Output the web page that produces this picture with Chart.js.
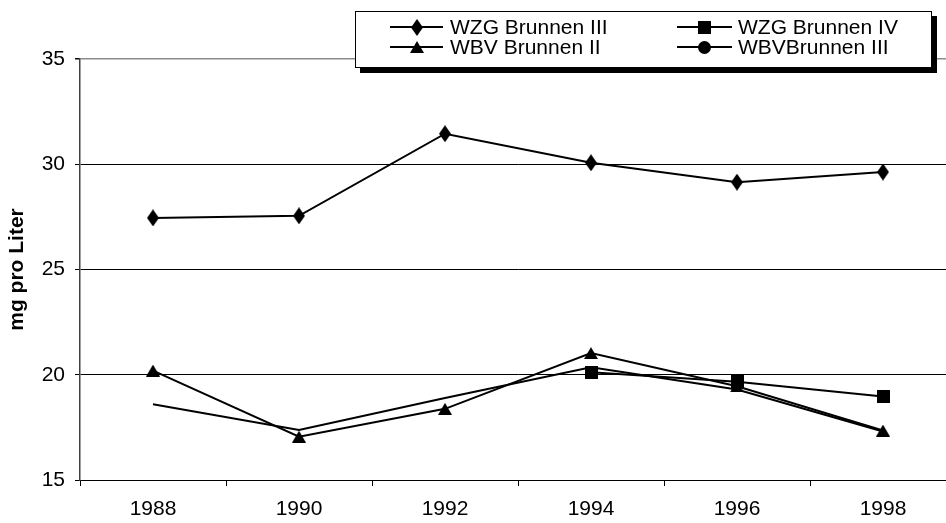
<!DOCTYPE html>
<html>
<head>
<meta charset="utf-8">
<script src="https://cdn.jsdelivr.net/npm/chart.js@4"></script>
<style>
  html, body { margin: 0; padding: 0; background: #ffffff; overflow: hidden; width: 946px; height: 523px; }
  canvas { display: block; }
</style>
</head>
<body>
<canvas id="c" width="1000" height="523"></canvas>
<script>
// ---- data ----
const years = ['1988', '1990', '1992', '1994', '1996', '1998'];
const wzgBrunnen3 = [27.45, 27.55, 31.45, 30.07, 29.15, 29.63];
const wzgBrunnen4 = [null, null, null, 20.12, 19.67, 18.97];
const wbvBrunnen2 = [20.2, 17.06, 18.38, 21.03, 19.45, 17.35];
const wbvBrunnen3 = [18.6, 17.38, 18.9, 20.35, 19.3, 17.3];
const seriesLabels = ['WZG Brunnen III', 'WZG Brunnen IV', 'WBV Brunnen II', 'WBVBrunnen III'];
const yTicks = [15, 20, 25, 30, 35];
const yTitle = 'mg pro Liter';

const FONT = '"Liberation Sans", Arial, sans-serif';

function makeMarker(kind) {
  const c = document.createElement('canvas');
  let w, h;
  if (kind === 'diamond') { w = 12; h = 17; }
  else if (kind === 'square') { w = 13; h = 13; }
  else if (kind === 'triangle') { w = 14; h = 12; }
  else { w = 13; h = 13; }
  c.width = w; c.height = h;
  const g = c.getContext('2d');
  g.fillStyle = '#000';
  g.beginPath();
  if (kind === 'diamond') { g.moveTo(w/2, 0); g.lineTo(w, h/2); g.lineTo(w/2, h); g.lineTo(0, h/2); }
  else if (kind === 'square') { g.rect(0, 0, w, h); }
  else if (kind === 'triangle') { g.moveTo(w/2, 0); g.lineTo(w, h); g.lineTo(0, h); }
  else { g.arc(w/2, h/2, w/2, 0, Math.PI*2); }
  g.closePath();
  g.fill();
  return c;
}
const mDiamond = makeMarker('diamond');
const mSquare = makeMarker('square');
const mTriangle = makeMarker('triangle');
const mCircle = makeMarker('circle');

function ds(label, data, marker, showPoints) {
  return {
    label: label,
    data: data,
    borderColor: '#000',
    backgroundColor: '#000',
    borderWidth: 2,
    tension: 0,
    pointStyle: marker,
    pointRadius: showPoints ? 7 : 0,
    pointHoverRadius: showPoints ? 7 : 0,
    spanGaps: false,
    legendMarker: marker
  };
}

const legendBox = {
  id: 'legendBox',
  afterDraw(chart) {
    const ctx = chart.ctx;
    const x0 = 355, y0 = 11, x1 = 932, y1 = 68, sh = 5;
    ctx.save();
    ctx.fillStyle = '#000';
    ctx.fillRect(x0 + sh, y0 + sh, x1 - x0, y1 - y0);
    ctx.fillStyle = '#fff';
    ctx.fillRect(x0, y0, x1 - x0, y1 - y0);
    ctx.strokeStyle = '#000';
    ctx.lineWidth = 1;
    ctx.strokeRect(x0 + 0.5, y0 + 0.5, x1 - x0 - 1, y1 - y0 - 1);
    const cols = [{ l: 390, r: 443, t: 450 }, { l: 677, r: 732, t: 738 }];
    const rows = [27, 47];
    const order = [0, 1, 2, 3]; // row-major: WZG III, WZG IV / WBV II, WBV III
    ctx.font = '21px ' + FONT;
    ctx.textBaseline = 'middle';
    ctx.textAlign = 'left';
    order.forEach((di, k) => {
      const d = chart.data.datasets[di];
      const col = cols[k % 2], y = rows[Math.floor(k / 2)];
      ctx.strokeStyle = '#000';
      ctx.lineWidth = 2;
      ctx.beginPath();
      ctx.moveTo(col.l, y);
      ctx.lineTo(col.r, y);
      ctx.stroke();
      const m = d.legendMarker;
      const cx = (col.l + col.r) / 2;
      ctx.drawImage(m, Math.round(cx - m.width / 2), Math.round(y - m.height / 2));
      ctx.fillStyle = '#000';
      ctx.fillText(d.label, col.t, y + 1);
    });
    ctx.restore();
  }
};

new Chart(document.getElementById('c'), {
  type: 'line',
  data: {
    labels: years,
    datasets: [
      ds(seriesLabels[0], wzgBrunnen3, mDiamond, true),
      ds(seriesLabels[1], wzgBrunnen4, mSquare, true),
      ds(seriesLabels[2], wbvBrunnen2, mTriangle, true),
      ds(seriesLabels[3], wbvBrunnen3, mCircle, false)
    ]
  },
  options: {
    responsive: false,
    animation: false,
    devicePixelRatio: 1,
    layout: { padding: { top: 59, left: 0, right: 44, bottom: 0 } },
    plugins: {
      legend: { display: false },
      tooltip: { enabled: false },
      title: { display: false }
    },
    scales: {
      x: {
        type: 'category',
        offset: true,
        grid: {
          offset: true,
          drawOnChartArea: false,
          drawTicks: true,
          tickLength: 6,
          tickColor: '#000',
          color: '#000'
        },
        border: { display: true, color: '#000', width: 1 },
        ticks: {
          color: '#000',
          font: { family: FONT, size: 21 },
          padding: 11,
          maxRotation: 0,
          autoSkip: false
        },
        afterFit(scale) { scale.height = 43; }
      },
      y: {
        min: 15,
        max: 35,
        afterBuildTicks(scale) { scale.ticks = yTicks.map(v => ({ value: v })); },
        grid: {
          color: (c) => (c.tick && c.tick.value === 35) ? '#8c8c8c' : '#000',
          lineWidth: (c) => (c.tick && c.tick.value === 35) ? 1.5 : 1,
          drawTicks: true,
          tickLength: 5,
          tickColor: '#000'
        },
        border: { display: true, color: '#404040', width: 1.5 },
        ticks: {
          color: '#000',
          font: { family: FONT, size: 21 },
          padding: 10
        },
        title: {
          display: true,
          text: yTitle,
          color: '#000',
          font: { family: FONT, size: 21, weight: 'bold' },
          padding: { top: 5, bottom: 0 }
        },
        afterFit(scale) { scale.width = 80; }
      }
    }
  },
  plugins: [legendBox]
});
</script>
</body>
</html>
